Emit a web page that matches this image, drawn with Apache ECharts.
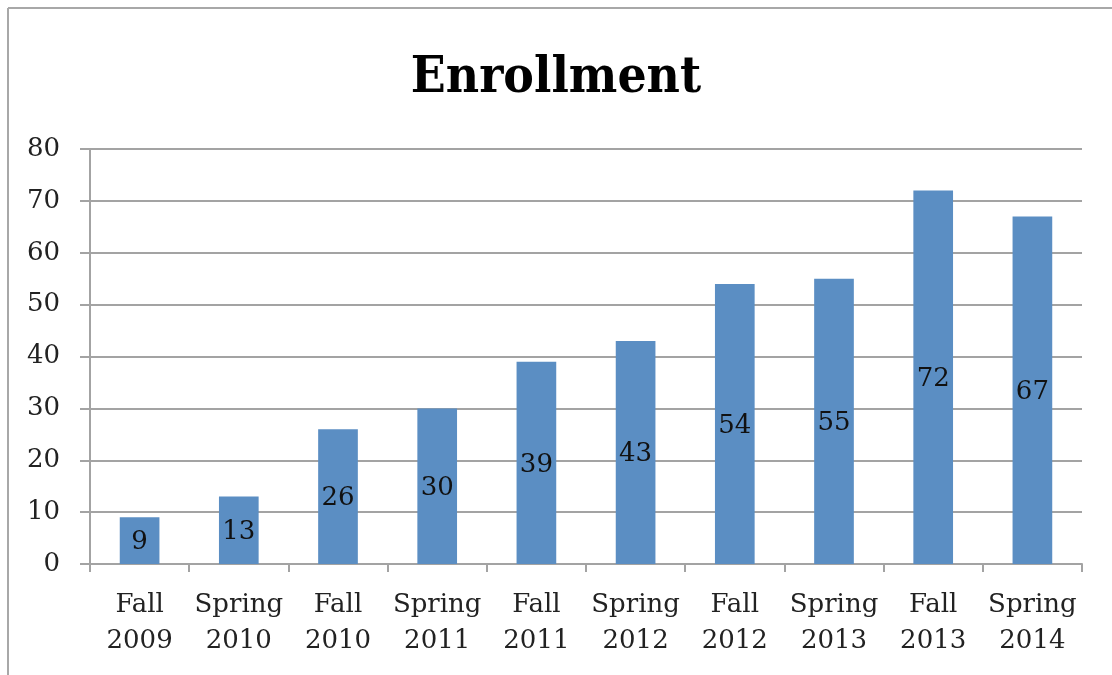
<!DOCTYPE html>
<html lang="en">
<head>
    <meta charset="UTF-8">
    <title>Enrollment</title>
    <script src="https://cdn.jsdelivr.net/npm/echarts@6/dist/echarts.min.js"></script>
    <style>
        html, body { margin: 0; padding: 0; background: #fff; }
        #main { width: 1112px; height: 675px; }
    </style>
</head>
<body>
<div id="main"></div>
<script>
    // data
    var terms = ['Fall\n2009', 'Spring\n2010', 'Fall\n2010', 'Spring\n2011', 'Fall\n2011',
                 'Spring\n2012', 'Fall\n2012', 'Spring\n2013', 'Fall\n2013', 'Spring\n2014'];
    var enrollment = [9, 13, 26, 30, 39, 43, 54, 55, 72, 67];
    var yTicks = [0, 10, 20, 30, 40, 50, 60, 70, 80];

    var serif = 'DejaVu Serif';
    var gray = '#a3a3a3';

    var myChart = echarts.init(document.getElementById('main'));

    var option = {
        backgroundColor: '#fff',
        animation: false,
        title: {
            text: 'Enrollment',
            left: 'center',
            top: 48,
            textStyle: {
                fontFamily: 'DejaVu Serif Condensed, DejaVu Serif',
                fontWeight: 'bold',
                fontSize: 51,
                color: '#000'
            }
        },
        // frame lines top and left like the original chart border
        graphic: [
            { type: 'line', shape: { x1: 8, y1: 8, x2: 1112, y2: 8 }, style: { stroke: '#a8a8a8', lineWidth: 2 } },
            { type: 'line', shape: { x1: 8, y1: 8, x2: 8, y2: 675 }, style: { stroke: '#a8a8a8', lineWidth: 2 } }
        ],
        grid: {
            left: 90,
            right: 30,
            top: 149,
            bottom: 111
        },
        xAxis: {
            type: 'category',
            data: terms,
            axisLine: { lineStyle: { color: gray, width: 2 } },
            axisTick: { show: true, length: 8, alignWithLabel: false, lineStyle: { color: gray, width: 2 } },
            axisLabel: {
                interval: 0,
                margin: 23,
                fontFamily: serif,
                fontSize: 26,
                lineHeight: 36,
                color: '#222'
            }
        },
        yAxis: {
            type: 'value',
            min: yTicks[0],
            max: yTicks[yTicks.length - 1],
            interval: 10,
            axisLine: { show: true, lineStyle: { color: gray, width: 2 } },
            axisTick: { show: true, length: 10, lineStyle: { color: gray, width: 2 } },
            splitLine: { lineStyle: { color: gray, width: 2 } },
            axisLabel: {
                margin: 30,
                fontFamily: serif,
                fontSize: 26,
                color: '#222'
            }
        },
        series: [{
            name: 'Enrollment',
            type: 'bar',
            data: enrollment,
            barWidth: '40%',
            itemStyle: { color: '#5b8ec3' },
            label: {
                show: true,
                position: 'inside',
                offset: [0, 2],
                fontFamily: serif,
                fontSize: 26,
                color: '#111'
            }
        }]
    };

    myChart.setOption(option);
</script>
</body>
</html>
